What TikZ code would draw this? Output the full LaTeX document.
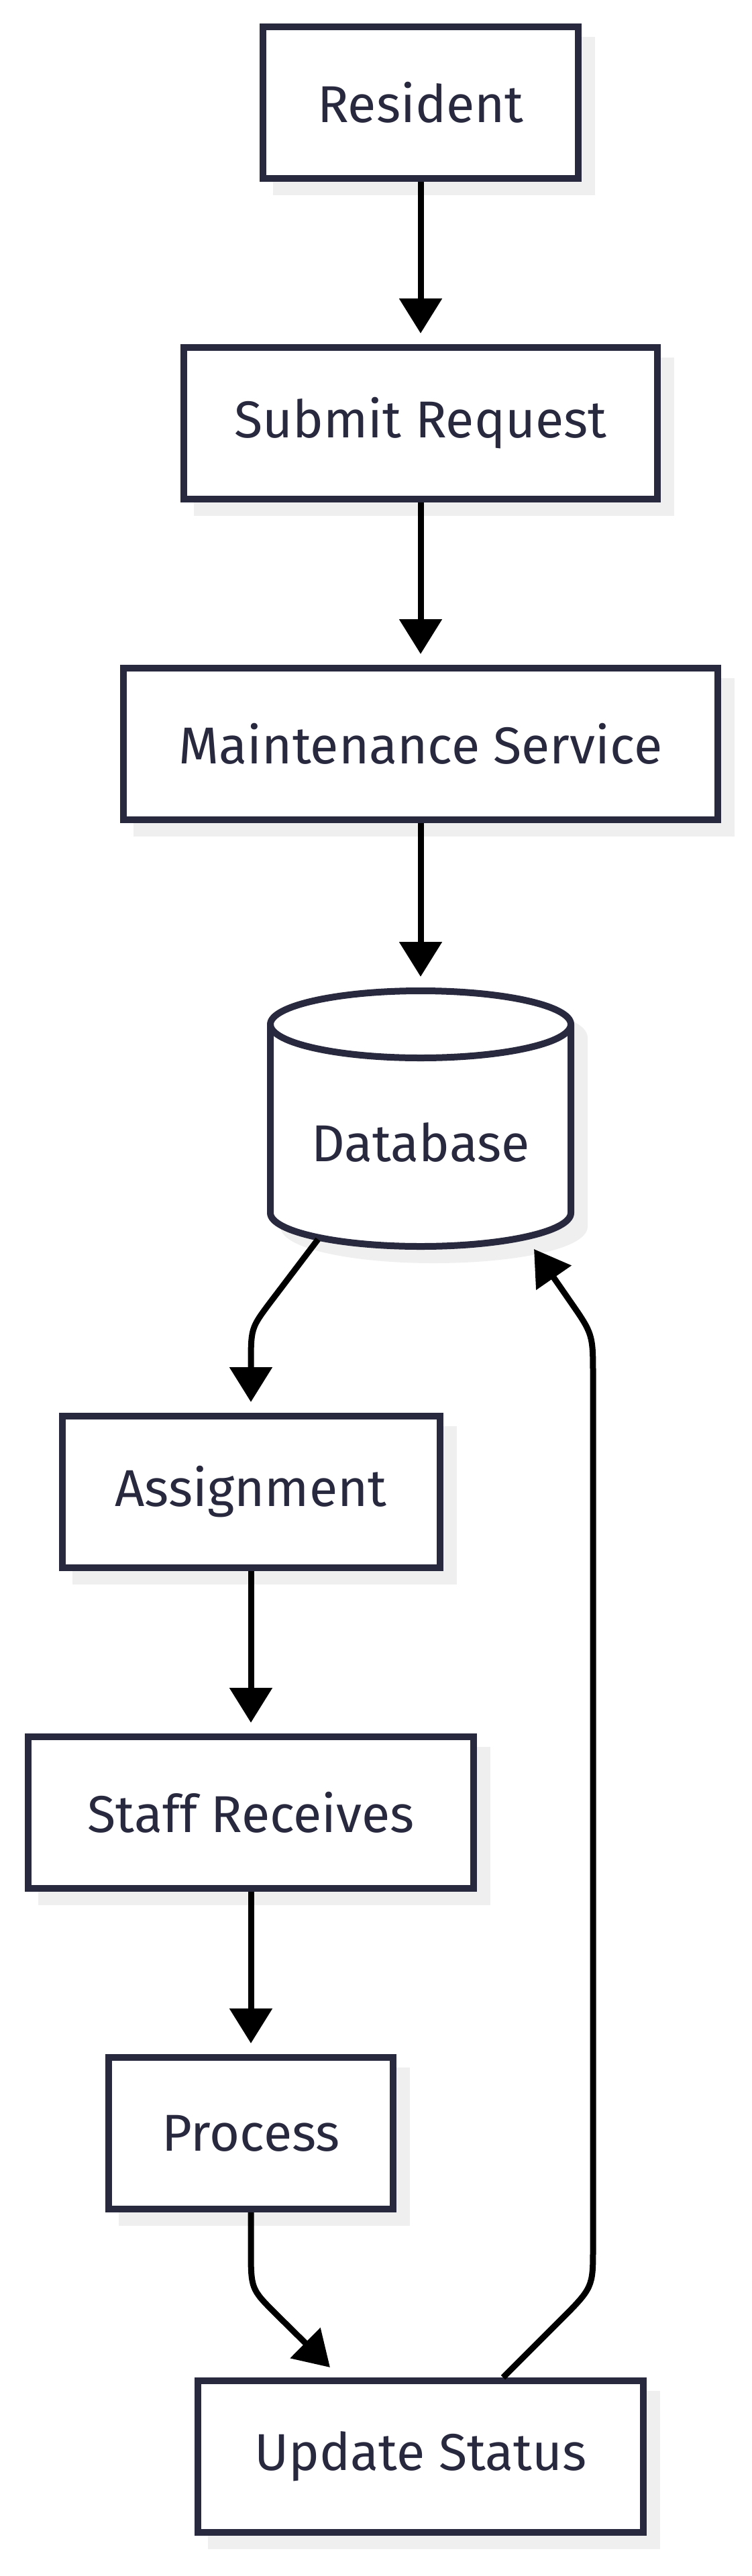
\documentclass[tikz,border=0pt]{standalone}
\usepackage{fontspec}
\setmainfont{Fira Sans}
\usepackage{xcolor}
\usepackage{tikz}
\usetikzlibrary{positioning, calc, shadows}
\usetikzlibrary{arrows.meta}
\tikzset{>={Triangle[width=6.2mm,length=5.2mm]}}
\definecolor{boxline}{HTML}{28283E}
\definecolor{shadowgray}{HTML}{EFEFEF}

\begin{document}
\begin{tikzpicture}[box/.style={rectangle, draw=boxline, fill=white, line width=1mm, minimum height=22.6mm, text=boxline, font=\fontsize{22}{26}\selectfont, drop shadow={shadow xshift=2mm, shadow yshift=-2mm, fill=shadowgray, draw=shadowgray, line width=1mm, opacity=1}}, dbbox/.style={rectangle, draw=none, minimum width=44.8mm, minimum height=38.1mm, outer sep=0.5mm}, dbtext/.style={text=boxline, font=\fontsize{22}{26}\selectfont}, flow/.style={->, line width=0.9mm, black, line join=round}]

    \useasboundingbox (0,0) rectangle (11.2,-38.4);

    %Nodes
    \node[box, minimum width=47mm](resident) at (6.27,-1.53){Resident};
    \node[box, minimum width=70.6mm](submit)[below=24.2mm of resident]{Submit Request};
    \node[box, minimum width=88.6mm](maint)[below=24.2mm of submit]{Maintenance Service};
    \node[dbbox](db) at (6.27,-16.675){};
    \node[box, minimum width=56.3mm](assign) at (3.74,-22.24){Assignment};
    \node[box, minimum width=66.4mm](staff)[below=24.2mm of assign]{Staff Receives};
    \node[box, minimum width=42.4mm](proc)[below=24.2mm of staff]{Process};
    \node[box, minimum width=66.4mm](update) at (6.27,-36.62){Update Status};

    %Database
    \path[fill=shadowgray, draw=shadowgray, line width=1mm] ($(db.center)+(-2.04,1.205)$) -- ($(db.center)+(-2.04,-1.605)$) arc[start angle=180, end angle=360, x radius=2.24, y radius=0.5] -- ($(db.center)+(2.44,1.205)$) arc[start angle=0, end angle=180, x radius=2.24, y radius=0.5] -- cycle;
    \path[fill=white, draw=boxline, line width=1mm] ($(db.center)+(-2.24,1.405)$) -- ($(db.center)+(-2.24,-1.405)$) arc[start angle=180, end angle=360, x radius=2.24, y radius=0.5] -- ($(db.center)+(2.24,1.405)$) arc[start angle=0, end angle=180, x radius=2.24, y radius=0.5] -- cycle;
    \draw[boxline, line width=1mm] ($(db.center)+(-2.24,1.405)$) arc[start angle=180, end angle=360, x radius=2.24, y radius=0.5];
    \node[dbtext](dblabel) at ($(db.center)+(0,-0.355)$){Database};

    %Lines
    \coordinate (dbout) at ($(db.center)+(-1.53,-1.80)$);
    \coordinate (dbin) at ($(db.center)+(1.69,-1.945)$);
    \coordinate (updout) at ($(update.north)+(1.23,0)$);
    \coordinate (updin) at ($(update.north)+(-1.35,0.15)$);
    \draw[flow, shorten >=1.6mm] (resident.south) -- (submit.north);
    \draw[flow, shorten >=1.6mm] (submit.south) -- (maint.north);
    \draw[flow, shorten >=1.6mm] (maint.south) -- (db.north);
    \draw[flow, shorten >=1.6mm] (dbout) -- ($(dbout)+(-0.72,-0.95)$) .. controls ($(assign.north)+(0,1.26)$) .. ($(assign.north)+(0,0.69)$) -- (assign.north);
    \draw[flow, shorten >=1.6mm] (assign.south) -- (staff.north);
    \draw[flow, shorten >=1.6mm] (staff.south) -- (proc.north);
    \draw[flow] (proc.south) -- ($(proc.south)+(0,-0.53)$) .. controls ($(proc.south)+(0,-1.14)$) .. ($(proc.south)+(0.37,-1.51)$) -- (updin);
    \draw[flow] (updout) -- ($(updout)+(0.83,0.83)$) .. controls ($(updout)+(1.34,1.34)$) .. ($(updout)+(1.34,1.94)$) -- ($(dbin)+(0.88,-1.91)$) .. controls ($(dbin)+(0.88,-1.27)$) .. ($(dbin)+(0.54,-0.78)$) -- (dbin);

\end{tikzpicture}
\end{document}
